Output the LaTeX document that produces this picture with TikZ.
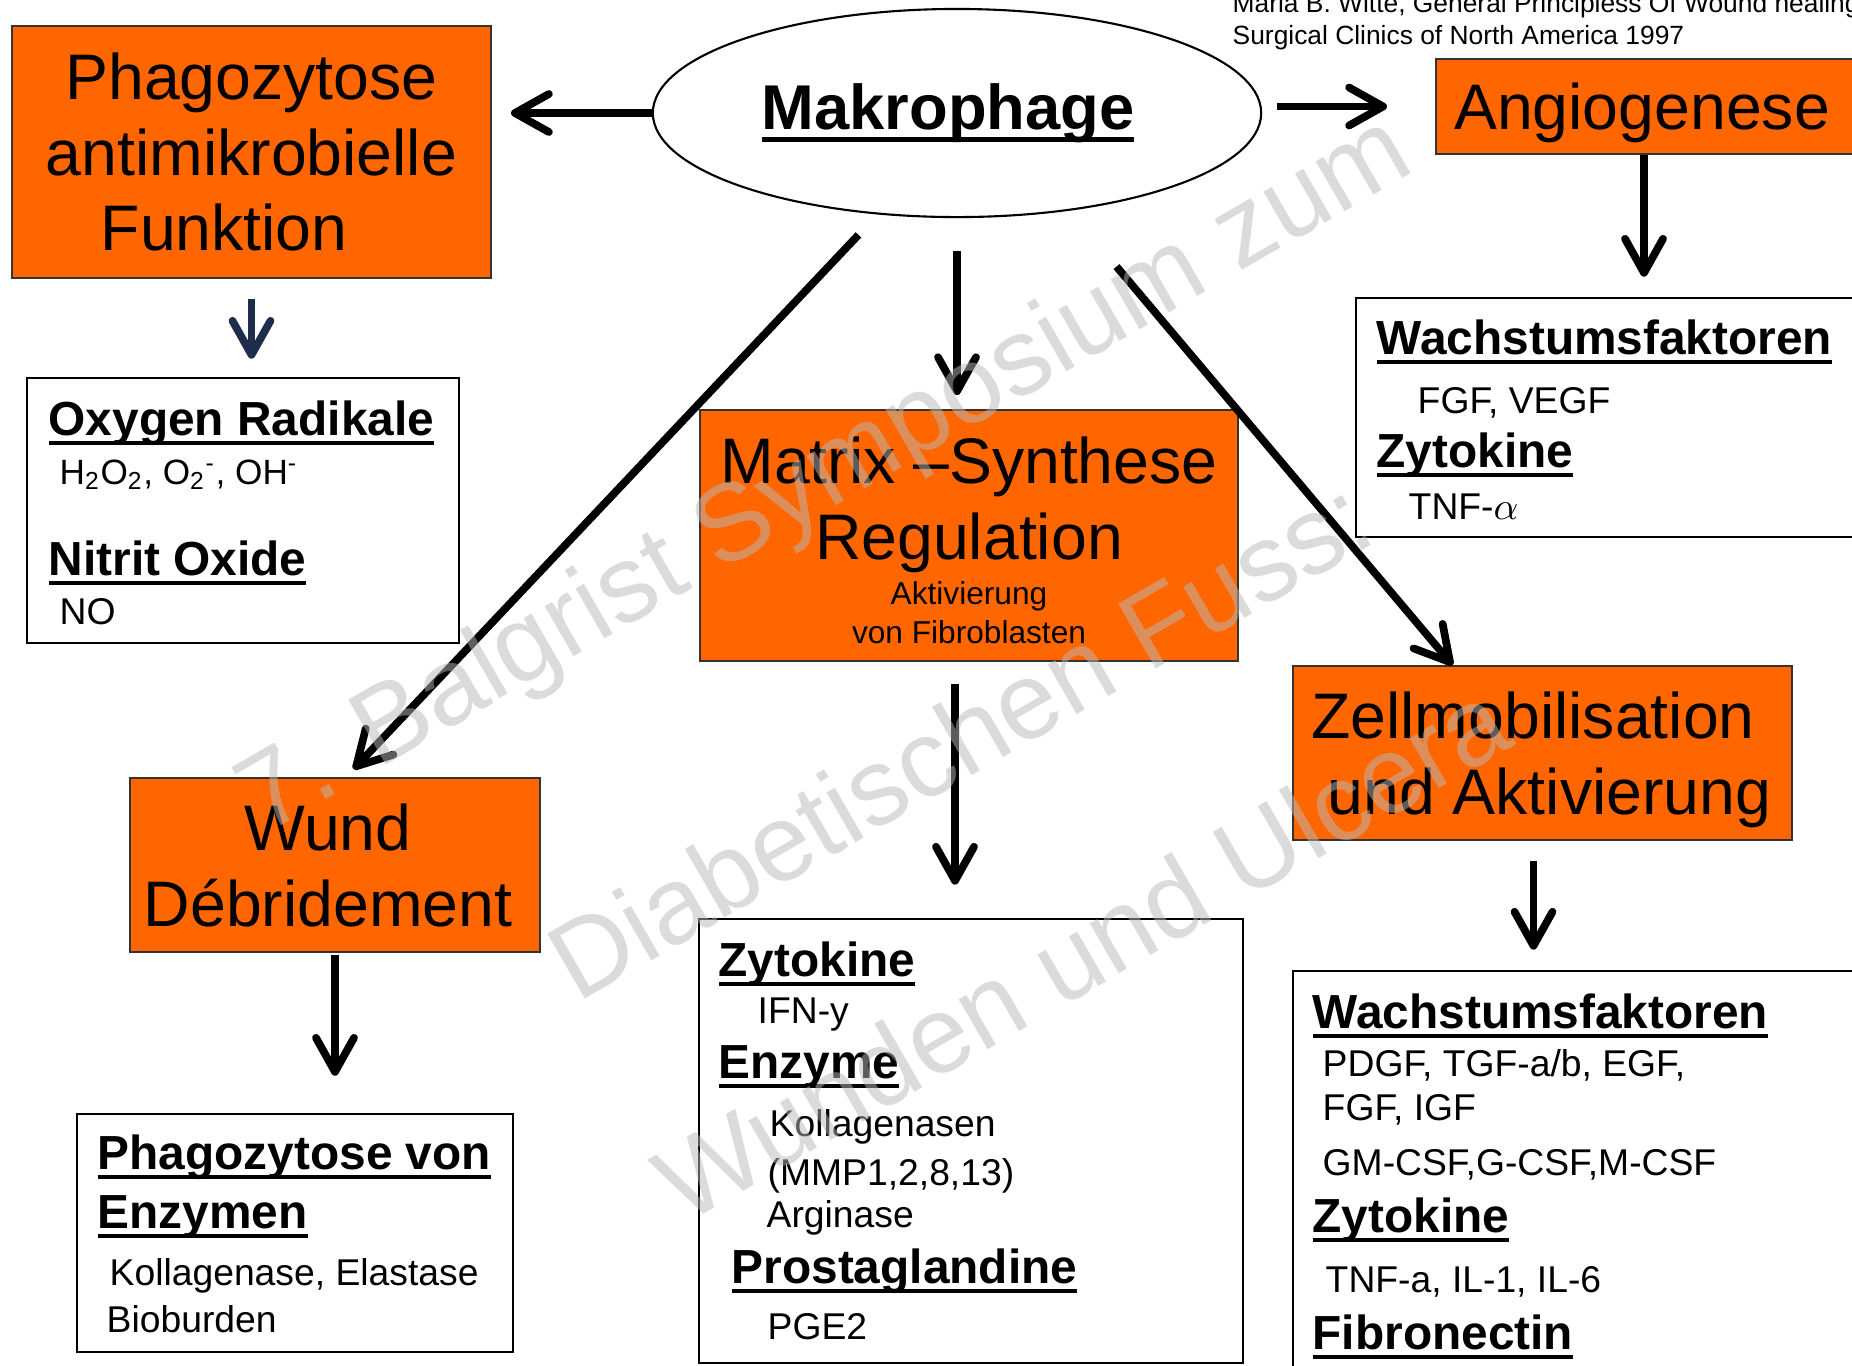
\documentclass[tikz,border=0pt]{standalone}
\usepackage{fontspec}
\setmainfont{Liberation Sans}
\usetikzlibrary{arrows.meta,shapes.geometric,calc}
\definecolor{boxorange}{HTML}{FF6600}
\definecolor{arrownavy}{HTML}{1F2D4D}
\definecolor{markgray}{HTML}{B8B8B8}
\newcommand{\ulhead}[1]{\setbox0=\hbox{#1}\rlap{\rule[-0.2em]{\wd0}{0.085em}}\box0}
\begin{document}
\begin{tikzpicture}[x=0.01cm,y=-0.01cm,
    orangebox/.style={draw=black!80,line width=0.5pt,fill=boxorange,inner sep=0pt,align=center,
      font=\fontsize{18.3}{21.6}\selectfont},
    infobox/.style={draw=black,line width=0.7pt,inner sep=0pt},
    head/.style={anchor=base west,inner sep=0pt,font=\fontsize{13.6}{16.3}\selectfont\bfseries},
    entry/.style={anchor=base west,inner sep=0pt,font=\fontsize{10.6}{12.7}\selectfont},
    cite/.style={anchor=base west,inner sep=0pt,font=\fontsize{7.5}{9}\selectfont},
    arr/.style={line width=2.2pt,-{Straight Barb[length=3.4mm,width=3.8mm,round]}},
    wmark/.style={text=markgray,opacity=0.5,rotate=30,inner sep=0pt,font=\fontsize{31}{37}\selectfont}]
    \useasboundingbox (0,0) rectangle (1852,1365);

    % top row
    \node[ellipse,draw,line width=0.6pt,minimum width=6.08cm,minimum height=2.08cm,inner sep=0pt,
        font=\fontsize{18}{21.6}\selectfont\bfseries] (makro) at (957,113) {\ulhead{Makrophage}\hspace*{1.8mm}};
    \node[orangebox,minimum width=4.79cm,minimum height=2.52cm] (phago) at (251.5,152)
        {Phagozytose\\antimikrobielle\\Funktion\hspace*{0.85em}};
    \node[orangebox,text depth=0pt,minimum width=4.34cm,minimum height=0.95cm] (angio) at (1653,106.5) {Angiogenese\hspace*{2.2mm}};
    \node[cite] (citeA) at (1232,12) {Maria B. Witte, General Principless Of Wound healing};
    \node[cite] (citeB) at (1232,44) {Surgical Clinics of North America 1997};

    % second row
    \node[infobox,minimum width=4.32cm,minimum height=2.65cm] (oxy) at (243,510.5) {};
    \node[head] (oxyA) at (48,435) {\ulhead{Oxygen Radikale}};
    \node[entry,font=\fontsize{10}{12}\selectfont] (oxyB) at (59,484)
        {H\textsubscript{2}O\textsubscript{2}, O\textsubscript{2}\textsuperscript{-}, OH\textsuperscript{-}};
    \node[head] (oxyC) at (48,575) {\ulhead{Nitrit Oxide}};
    \node[entry] (oxyD) at (59,624) {NO};

    \node[orangebox,minimum width=5.38cm,minimum height=2.51cm] (matrix) at (969,535.5)
        {\rule{0pt}{16pt}Matrix –Synthese\\Regulation\hspace*{1.6mm}\\[-8.8pt]{\fontsize{9}{10.8}\selectfont Aktivierung}\\[-10.5pt]{\fontsize{9}{10.8}\selectfont von Fibroblasten}};

    \node[infobox,minimum width=5.14cm,minimum height=2.39cm] (wfa) at (1613,417.5) {};
    \node[head] (wfaA) at (1376,354) {\ulhead{Wachstumsfaktoren}};
    \node[entry] (wfaB) at (1417,413) {FGF, VEGF};
    \node[head] (wfaC) at (1376,467) {\ulhead{Zytokine}};
    \node[entry] (wfaD) at (1408,519) {TNF-$\alpha$};

    % third row
    \node[orangebox,minimum width=4.10cm,minimum height=1.74cm] (wund) at (335,865)
        {Wund\hspace*{1.4mm}\\Débridement\hspace*{1.4mm}};
    \node[orangebox,text depth=0pt,minimum width=4.99cm,minimum height=1.74cm] (zell) at (1542.5,753)
        {Zellmobilisation\hspace*{1.9mm}\\\hspace*{1.4mm}und Aktivierung};

    % bottom row
    \node[infobox,minimum width=4.36cm,minimum height=2.38cm] (enz) at (295,1233) {};
    \node[head] (enzA) at (97,1169) {\ulhead{Phagozytose von}};
    \node[head] (enzB) at (97,1228) {\ulhead{Enzymen}};
    \node[entry] (enzC) at (109,1285) {Kollagenase, Elastase};
    \node[entry] (enzD) at (106,1332) {Bioburden};

    \node[infobox,minimum width=5.44cm,minimum height=4.44cm] (cyt) at (971,1141) {};
    \node[head] (cytA) at (718,976) {\ulhead{Zytokine}};
    \node[entry] (cytB) at (757,1023) {IFN-y};
    \node[head] (cytC) at (718,1078) {\ulhead{Enzyme}};
    \node[entry] (cytD) at (769,1136) {Kollagenasen};
    \node[entry] (cytE) at (767,1185) {(MMP1,2,8,13)};
    \node[entry] (cytF) at (766,1227) {Arginase};
    \node[head] (cytG) at (731,1283) {\ulhead{Prostaglandine}};
    \node[entry] (cytH) at (767,1339) {PGE2};

    \node[infobox,minimum width=5.77cm,minimum height=4.19cm] (wfb) at (1581.5,1180.5) {};
    \node[head] (wfbA) at (1312,1028) {\ulhead{Wachstumsfaktoren}};
    \node[entry] (wfbB) at (1322,1076) {PDGF, TGF-a/b, EGF,};
    \node[entry] (wfbC) at (1322,1120) {FGF, IGF};
    \node[entry] (wfbD) at (1322,1175) {GM-CSF,G-CSF,M-CSF};
    \node[head] (wfbE) at (1312,1232) {\ulhead{Zytokine}};
    \node[entry] (wfbF) at (1325,1292) {TNF-a, IL-1, IL-6};
    \node[head] (wfbG) at (1312,1349) {\ulhead{Fibronectin}};

    % arrows
    \draw[arr,shorten >=1.9mm] (makro.west) -- (makro.west -| phago.east);
    \draw[arr,shorten <=1.5mm,shorten >=4.8mm] (makro.east |- angio.west) -- (angio.west);
    \draw[arr,shorten >=2mm] ($(angio.south)+(-9,0)$) -- ($(angio.south |- wfa.north)+(-9,0)$);
    \draw[arr,draw=arrownavy,shorten <=2mm,shorten >=1.8mm] (phago.south) -- (phago.south |- oxy.north);
    \draw[arr,shorten <=3.3mm,shorten >=1.4mm] (makro.south) -- (makro.south |- matrix.north);
    \draw[arr,shorten <=2.8mm,shorten >=1.1mm] (makro.232) -- ($(wund.north)+(11,0)$);
    \draw[arr,shorten <=7.3mm] (makro.319) -- ($(zell.north)+(-90,0)$);
    \draw[arr,shorten <=2.2mm,shorten >=3.3mm] ($(matrix.south)+(-14,0)$) -- ($(matrix.south |- cyt.north)+(-14,0)$);
    \draw[arr,shorten <=0.2mm,shorten >=3.7mm] (wund.south) -- (wund.south |- enz.north);
    \draw[arr,shorten <=2mm,shorten >=2mm] ($(zell.south)+(-9,0)$) -- ($(zell.south |- wfb.north)+(-9,0)$);

    % watermark
    \node[wmark] (wmA) at (827,478) {7. Balgrist Symposium zum};
    \node[wmark] (wmB) at (959,738) {Diabetischen Fuss:};
    \node[wmark] (wmC) at (1081,951) {Wunden und Ulcera};
\end{tikzpicture}
\end{document}
